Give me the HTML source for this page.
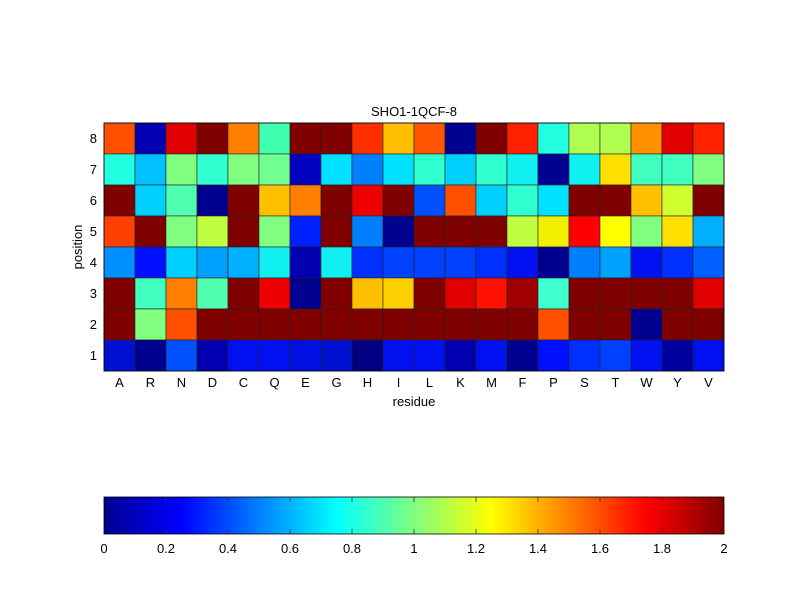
<!DOCTYPE html>
<html><head><meta charset="utf-8"><style>body{margin:0;background:#fff}svg{display:block}text{font-family:"Liberation Sans",sans-serif;font-size:13px;fill:#000}</style></head><body>
<svg width="800" height="600" xmlns="http://www.w3.org/2000/svg">
<defs><linearGradient id="jet" x1="0" x2="1" y1="0" y2="0">
<stop offset="0" stop-color="#00008f"/><stop offset="0.125" stop-color="#0000ff"/><stop offset="0.375" stop-color="#00ffff"/><stop offset="0.625" stop-color="#ffff00"/><stop offset="0.875" stop-color="#ff0000"/><stop offset="1" stop-color="#800000"/></linearGradient></defs>
<g stroke="#222" stroke-width="0.6">
<!-- row 8 -->
<rect x="104" y="123" width="31" height="31" fill="#ff5000"/><rect x="135" y="123" width="31" height="31" fill="#0000b0"/><rect x="166" y="123" width="31" height="31" fill="#e00000"/><rect x="197" y="123" width="31" height="31" fill="#800000"/><rect x="228" y="123" width="31" height="31" fill="#ff8000"/><rect x="259" y="123" width="31" height="31" fill="#40ffb0"/><rect x="290" y="123" width="31" height="31" fill="#800000"/><rect x="321" y="123" width="31" height="31" fill="#800000"/><rect x="352" y="123" width="31" height="31" fill="#ff3000"/><rect x="383" y="123" width="31" height="31" fill="#ffbf00"/><rect x="414" y="123" width="31" height="31" fill="#ff5500"/><rect x="445" y="123" width="31" height="31" fill="#000090"/><rect x="476" y="123" width="31" height="31" fill="#800000"/><rect x="507" y="123" width="31" height="31" fill="#ff2000"/><rect x="538" y="123" width="31" height="31" fill="#20ffe0"/><rect x="569" y="123" width="31" height="31" fill="#b0ff50"/><rect x="600" y="123" width="31" height="31" fill="#b0ff50"/><rect x="631" y="123" width="31" height="31" fill="#ff9000"/><rect x="662" y="123" width="31" height="31" fill="#e00000"/><rect x="693" y="123" width="31" height="31" fill="#ff2000"/>
<!-- row 7 -->
<rect x="104" y="154" width="31" height="31" fill="#20ffe0"/><rect x="135" y="154" width="31" height="31" fill="#00c0ff"/><rect x="166" y="154" width="31" height="31" fill="#80ff80"/><rect x="197" y="154" width="31" height="31" fill="#30ffd0"/><rect x="228" y="154" width="31" height="31" fill="#80ff80"/><rect x="259" y="154" width="31" height="31" fill="#70ff90"/><rect x="290" y="154" width="31" height="31" fill="#0000c0"/><rect x="321" y="154" width="31" height="31" fill="#00e0ff"/><rect x="352" y="154" width="31" height="31" fill="#0080ff"/><rect x="383" y="154" width="31" height="31" fill="#00e0ff"/><rect x="414" y="154" width="31" height="31" fill="#30ffd0"/><rect x="445" y="154" width="31" height="31" fill="#00d0ff"/><rect x="476" y="154" width="31" height="31" fill="#30ffd0"/><rect x="507" y="154" width="31" height="31" fill="#10f0f0"/><rect x="538" y="154" width="31" height="31" fill="#000090"/><rect x="569" y="154" width="31" height="31" fill="#10f0f0"/><rect x="600" y="154" width="31" height="31" fill="#ffe000"/><rect x="631" y="154" width="31" height="31" fill="#40ffc0"/><rect x="662" y="154" width="31" height="31" fill="#40ffc0"/><rect x="693" y="154" width="31" height="31" fill="#80ff80"/>
<!-- row 6 -->
<rect x="104" y="185" width="31" height="31" fill="#800000"/><rect x="135" y="185" width="31" height="31" fill="#00d0ff"/><rect x="166" y="185" width="31" height="31" fill="#50ffb0"/><rect x="197" y="185" width="31" height="31" fill="#000090"/><rect x="228" y="185" width="31" height="31" fill="#800000"/><rect x="259" y="185" width="31" height="31" fill="#ffc000"/><rect x="290" y="185" width="31" height="31" fill="#ff8000"/><rect x="321" y="185" width="31" height="31" fill="#800000"/><rect x="352" y="185" width="31" height="31" fill="#ee0000"/><rect x="383" y="185" width="31" height="31" fill="#800000"/><rect x="414" y="185" width="31" height="31" fill="#0050ff"/><rect x="445" y="185" width="31" height="31" fill="#ff5000"/><rect x="476" y="185" width="31" height="31" fill="#00d0ff"/><rect x="507" y="185" width="31" height="31" fill="#30ffd0"/><rect x="538" y="185" width="31" height="31" fill="#00e0ff"/><rect x="569" y="185" width="31" height="31" fill="#800000"/><rect x="600" y="185" width="31" height="31" fill="#800000"/><rect x="631" y="185" width="31" height="31" fill="#ffc000"/><rect x="662" y="185" width="31" height="31" fill="#d0ff30"/><rect x="693" y="185" width="31" height="31" fill="#800000"/>
<!-- row 5 -->
<rect x="104" y="216" width="31" height="31" fill="#ff4000"/><rect x="135" y="216" width="31" height="31" fill="#800000"/><rect x="166" y="216" width="31" height="31" fill="#80ff80"/><rect x="197" y="216" width="31" height="31" fill="#c0ff40"/><rect x="228" y="216" width="31" height="31" fill="#800000"/><rect x="259" y="216" width="31" height="31" fill="#80ff80"/><rect x="290" y="216" width="31" height="31" fill="#0020ff"/><rect x="321" y="216" width="31" height="31" fill="#800000"/><rect x="352" y="216" width="31" height="31" fill="#0080ff"/><rect x="383" y="216" width="31" height="31" fill="#000090"/><rect x="414" y="216" width="31" height="31" fill="#800000"/><rect x="445" y="216" width="31" height="31" fill="#800000"/><rect x="476" y="216" width="31" height="31" fill="#800000"/><rect x="507" y="216" width="31" height="31" fill="#c0ff40"/><rect x="538" y="216" width="31" height="31" fill="#f0f000"/><rect x="569" y="216" width="31" height="31" fill="#ff0000"/><rect x="600" y="216" width="31" height="31" fill="#ffff00"/><rect x="631" y="216" width="31" height="31" fill="#80ff80"/><rect x="662" y="216" width="31" height="31" fill="#ffe000"/><rect x="693" y="216" width="31" height="31" fill="#00b0ff"/>
<!-- row 4 -->
<rect x="104" y="247" width="31" height="31" fill="#0090ff"/><rect x="135" y="247" width="31" height="31" fill="#0010ff"/><rect x="166" y="247" width="31" height="31" fill="#00d0ff"/><rect x="197" y="247" width="31" height="31" fill="#00a0ff"/><rect x="228" y="247" width="31" height="31" fill="#00b0ff"/><rect x="259" y="247" width="31" height="31" fill="#10f0f0"/><rect x="290" y="247" width="31" height="31" fill="#0000b0"/><rect x="321" y="247" width="31" height="31" fill="#10f0f0"/><rect x="352" y="247" width="31" height="31" fill="#0030ff"/><rect x="383" y="247" width="31" height="31" fill="#0040ff"/><rect x="414" y="247" width="31" height="31" fill="#0040ff"/><rect x="445" y="247" width="31" height="31" fill="#0040ff"/><rect x="476" y="247" width="31" height="31" fill="#0030ff"/><rect x="507" y="247" width="31" height="31" fill="#0010f0"/><rect x="538" y="247" width="31" height="31" fill="#000090"/><rect x="569" y="247" width="31" height="31" fill="#0080ff"/><rect x="600" y="247" width="31" height="31" fill="#00a0ff"/><rect x="631" y="247" width="31" height="31" fill="#0010f0"/><rect x="662" y="247" width="31" height="31" fill="#0030ff"/><rect x="693" y="247" width="31" height="31" fill="#0060ff"/>
<!-- row 3 -->
<rect x="104" y="278" width="31" height="31" fill="#800000"/><rect x="135" y="278" width="31" height="31" fill="#40ffc0"/><rect x="166" y="278" width="31" height="31" fill="#ff8000"/><rect x="197" y="278" width="31" height="31" fill="#50ffb0"/><rect x="228" y="278" width="31" height="31" fill="#800000"/><rect x="259" y="278" width="31" height="31" fill="#ee0000"/><rect x="290" y="278" width="31" height="31" fill="#000090"/><rect x="321" y="278" width="31" height="31" fill="#800000"/><rect x="352" y="278" width="31" height="31" fill="#ffc000"/><rect x="383" y="278" width="31" height="31" fill="#ffd000"/><rect x="414" y="278" width="31" height="31" fill="#800000"/><rect x="445" y="278" width="31" height="31" fill="#e00000"/><rect x="476" y="278" width="31" height="31" fill="#ff1000"/><rect x="507" y="278" width="31" height="31" fill="#a00000"/><rect x="538" y="278" width="31" height="31" fill="#40ffd0"/><rect x="569" y="278" width="31" height="31" fill="#800000"/><rect x="600" y="278" width="31" height="31" fill="#800000"/><rect x="631" y="278" width="31" height="31" fill="#800000"/><rect x="662" y="278" width="31" height="31" fill="#800000"/><rect x="693" y="278" width="31" height="31" fill="#e00000"/>
<!-- row 2 -->
<rect x="104" y="309" width="620" height="31" fill="#800000"/>
<rect x="104" y="309" width="31" height="31" fill="#800000"/><rect x="135" y="309" width="31" height="31" fill="#80ff80"/><rect x="166" y="309" width="31" height="31" fill="#ff5000"/><rect x="197" y="309" width="31" height="31" fill="#800000"/><rect x="228" y="309" width="31" height="31" fill="#800000"/><rect x="259" y="309" width="31" height="31" fill="#800000"/><rect x="290" y="309" width="31" height="31" fill="#800000"/><rect x="321" y="309" width="31" height="31" fill="#800000"/><rect x="352" y="309" width="31" height="31" fill="#800000"/><rect x="383" y="309" width="31" height="31" fill="#800000"/><rect x="414" y="309" width="31" height="31" fill="#800000"/><rect x="445" y="309" width="31" height="31" fill="#800000"/><rect x="476" y="309" width="31" height="31" fill="#800000"/><rect x="507" y="309" width="31" height="31" fill="#800000"/><rect x="538" y="309" width="31" height="31" fill="#ff5000"/><rect x="569" y="309" width="31" height="31" fill="#800000"/><rect x="600" y="309" width="31" height="31" fill="#800000"/><rect x="631" y="309" width="31" height="31" fill="#000090"/><rect x="662" y="309" width="31" height="31" fill="#800000"/><rect x="693" y="309" width="31" height="31" fill="#800000"/>
<!-- row 1 -->
<rect x="104" y="340" width="31" height="31" fill="#0010d0"/><rect x="135" y="340" width="31" height="31" fill="#000090"/><rect x="166" y="340" width="31" height="31" fill="#0050ff"/><rect x="197" y="340" width="31" height="31" fill="#0000b0"/><rect x="228" y="340" width="31" height="31" fill="#0010f0"/><rect x="259" y="340" width="31" height="31" fill="#0010f0"/><rect x="290" y="340" width="31" height="31" fill="#0010e0"/><rect x="321" y="340" width="31" height="31" fill="#0010d0"/><rect x="352" y="340" width="31" height="31" fill="#000080"/><rect x="383" y="340" width="31" height="31" fill="#0010f0"/><rect x="414" y="340" width="31" height="31" fill="#0010f0"/><rect x="445" y="340" width="31" height="31" fill="#0000b0"/><rect x="476" y="340" width="31" height="31" fill="#0010f0"/><rect x="507" y="340" width="31" height="31" fill="#000090"/><rect x="538" y="340" width="31" height="31" fill="#0010ff"/><rect x="569" y="340" width="31" height="31" fill="#0030ff"/><rect x="600" y="340" width="31" height="31" fill="#0040ff"/><rect x="631" y="340" width="31" height="31" fill="#0010f0"/><rect x="662" y="340" width="31" height="31" fill="#0000a0"/><rect x="693" y="340" width="31" height="31" fill="#0010f0"/>
</g>
<rect x="104" y="123" width="620" height="248" fill="none" stroke="#000" stroke-width="0.8"/>
<text x="414" y="116" text-anchor="middle">SHO1-1QCF-8</text>
<g text-anchor="end"><text x="97" y="143">8</text><text x="97" y="174">7</text><text x="97" y="205">6</text><text x="97" y="236">5</text><text x="97" y="267">4</text><text x="97" y="298">3</text><text x="97" y="329">2</text><text x="97" y="360">1</text></g>
<g text-anchor="middle">
<text x="119.5" y="387">A</text><text x="150.5" y="387">R</text><text x="181.5" y="387">N</text><text x="212.5" y="387">D</text><text x="243.5" y="387">C</text><text x="274.5" y="387">Q</text><text x="305.5" y="387">E</text><text x="336.5" y="387">G</text><text x="367.5" y="387">H</text><text x="398.5" y="387">I</text><text x="429.5" y="387">L</text><text x="460.5" y="387">K</text><text x="491.5" y="387">M</text><text x="522.5" y="387">F</text><text x="553.5" y="387">P</text><text x="584.5" y="387">S</text><text x="615.5" y="387">T</text><text x="646.5" y="387">W</text><text x="677.5" y="387">Y</text><text x="708.5" y="387">V</text>
<text x="414" y="406">residue</text>
<text x="0" y="0" transform="translate(82,247) rotate(-90)">position</text>
</g>
<rect x="104" y="497" width="620" height="37" fill="url(#jet)" stroke="#000" stroke-width="0.8"/>
<g stroke="#333" stroke-width="0.8">
<line x1="166" y1="497" x2="166" y2="502"/><line x1="228" y1="497" x2="228" y2="502"/><line x1="290" y1="497" x2="290" y2="502"/><line x1="352" y1="497" x2="352" y2="502"/><line x1="414" y1="497" x2="414" y2="502"/><line x1="476" y1="497" x2="476" y2="502"/><line x1="538" y1="497" x2="538" y2="502"/><line x1="600" y1="497" x2="600" y2="502"/><line x1="662" y1="497" x2="662" y2="502"/>
<line x1="166" y1="534" x2="166" y2="529"/><line x1="228" y1="534" x2="228" y2="529"/><line x1="290" y1="534" x2="290" y2="529"/><line x1="352" y1="534" x2="352" y2="529"/><line x1="414" y1="534" x2="414" y2="529"/><line x1="476" y1="534" x2="476" y2="529"/><line x1="538" y1="534" x2="538" y2="529"/><line x1="600" y1="534" x2="600" y2="529"/><line x1="662" y1="534" x2="662" y2="529"/>
</g>
<g text-anchor="middle">
<text x="104" y="553">0</text><text x="166" y="553">0.2</text><text x="228" y="553">0.4</text><text x="290" y="553">0.6</text><text x="352" y="553">0.8</text><text x="414" y="553">1</text><text x="476" y="553">1.2</text><text x="538" y="553">1.4</text><text x="600" y="553">1.6</text><text x="662" y="553">1.8</text><text x="724" y="553">2</text>
</g>
</svg>
</body></html>
